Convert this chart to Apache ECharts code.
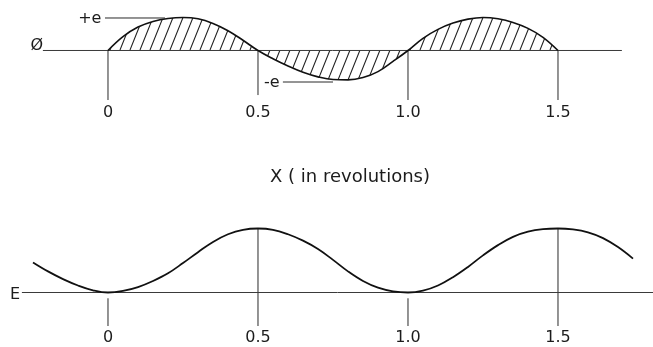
<!DOCTYPE html>
<html>
<head>
<meta charset="utf-8">
<script src="https://cdn.jsdelivr.net/npm/echarts@6/dist/echarts.min.js"></script>
<style>
  html, body { margin: 0; padding: 0; background: #fff; }
  #chart { width: 653px; height: 347px; }
</style>
</head>
<body>
<div id="chart"></div>
<script>
// Shared horizontal scale, in revolutions
const X_MIN = -0.36;
const X_MAX = 1.8167;

// Tick positions and their printed labels
const tickValues = [0, 0.5, 1.0, 1.5];
const tickLabels = ['0', '0.5', '1.0', '1.5'];

// Upper trace: phase swing (+e / -e about the zero line)
const phiX = [0, 0.05, 0.1, 0.15, 0.2, 0.25, 0.3, 0.35, 0.4, 0.45, 0.5,
              0.55, 0.6, 0.65, 0.7, 0.75, 0.8, 0.85, 0.9, 0.95, 1.0,
              1.05, 1.1, 1.15, 1.2, 1.25, 1.3, 1.35, 1.4, 1.45, 1.5];
const phiV = [0, 0.42, 0.71, 0.88, 0.97, 1.0, 0.96, 0.82, 0.60, 0.31, 0,
              -0.25, -0.47, -0.66, -0.80, -0.88, -0.89, -0.82, -0.64, -0.33, 0,
              0.37, 0.64, 0.83, 0.95, 1.0, 0.96, 0.85, 0.67, 0.40, 0];

// Lower trace: E
const eX = [-0.25, -0.2, -0.15, -0.1, -0.05, 0, 0.05, 0.1, 0.15, 0.2, 0.25, 0.3, 0.35,
            0.4, 0.45, 0.5, 0.55, 0.6, 0.65, 0.7, 0.75, 0.8, 0.85, 0.9, 0.95, 1.0,
            1.05, 1.1, 1.15, 1.2, 1.25, 1.3, 1.35, 1.4, 1.45, 1.5, 1.55, 1.6,
            1.65, 1.7, 1.75];
const eV = [0.47, 0.33, 0.21, 0.11, 0.035, 0, 0.025, 0.085, 0.18, 0.30, 0.46, 0.63, 0.79,
            0.91, 0.98, 1.0, 0.98, 0.91, 0.81, 0.68, 0.51, 0.33, 0.18, 0.075, 0.018, 0,
            0.03, 0.11, 0.24, 0.40, 0.58, 0.74, 0.87, 0.95, 0.99, 1.0, 0.985, 0.94,
            0.85, 0.71, 0.53];

// Zero lines [xStart, xEnd]
const phiBase = [-0.217, 1.713];
const eBase = [-0.287, 1.8167];

// Vertical guide lines [x, from, to]
const phiGuides = [[0, 0, -1.5], [0.5, 0, -1.35], [1.0, 0, -1.5], [1.5, 0, -1.5]];
const eGuides = [[0, -0.09, -0.523], [0.5, 1.0, -0.523], [1.0, -0.09, -0.523], [1.5, 1.0, -0.523]];

// Leader lines for the +e / -e callouts [x0, v0, x1, v1]
const leaders = [[-0.01, 0.985, 0.19, 0.985], [0.583, -0.955, 0.75, -0.955]];

// Callout texts [x, v, text, align]
const phiNotes = [[-0.022, 0.96, '+e', 'right'], [0.52, -0.97, '-e', 'left'], [-0.237, 0.14, 'Ø', 'center']];
const eNotes = [[-0.31, -0.04, 'E', 'center']];

const FONT = 'DejaVu Sans';
const INK = '#1c1c1c';

function zip(a, b) { return a.map((v, i) => [v, b[i]]); }

// Diagonal hatching tile
function hatchTile() {
  const c = document.createElement('canvas');
  c.width = 10; c.height = 25;
  const g = c.getContext('2d');
  g.strokeStyle = '#222';
  g.lineWidth = 1.1;
  g.beginPath();
  [-10, 0, 10].forEach(o => { g.moveTo(o, 25); g.lineTo(o + 10, 0); });
  g.stroke();
  return c;
}

function guideSeries(idx, data) {
  return {
    type: 'custom', xAxisIndex: idx, yAxisIndex: idx, silent: true,
    data: data,
    encode: { x: 0, y: [1, 2] },
    renderItem: (params, api) => {
      const a = api.coord([api.value(0), api.value(1)]);
      const b = api.coord([api.value(0), api.value(2)]);
      return { type: 'line', shape: { x1: a[0], y1: a[1], x2: b[0], y2: b[1] },
               style: { stroke: '#2a2a2a', lineWidth: 1 } };
    }
  };
}

function noteSeries(idx, data) {
  return {
    type: 'custom', xAxisIndex: idx, yAxisIndex: idx, silent: true,
    data: data,
    encode: { x: 0, y: 1 },
    renderItem: (params, api) => {
      const item = data[params.dataIndex];
      const p = api.coord([item[0], item[1]]);
      return { type: 'text', x: p[0], y: p[1],
               style: { text: item[2], align: item[3], verticalAlign: 'middle',
                        font: '16px "' + FONT + '"', fill: INK } };
    }
  };
}

function xAxisFor(idx, margin) {
  return {
    type: 'value', gridIndex: idx, min: X_MIN, max: X_MAX,
    axisLine: { show: false }, axisTick: { show: false }, splitLine: { show: false },
    axisLabel: {
      customValues: tickValues,
      formatter: v => tickLabels[tickValues.indexOf(v)],
      margin: margin, fontFamily: FONT, fontSize: 16, color: INK
    }
  };
}

const chart = echarts.init(document.getElementById('chart'), null, { renderer: 'canvas' });
chart.setOption({
  animation: false,
  backgroundColor: '#fff',
  title: {
    text: 'X ( in revolutions)', left: 265, top: 163,
    textStyle: { fontFamily: FONT, fontSize: 18, fontWeight: 'normal', color: INK }
  },
  grid: [
    { left: 0, right: 0, top: 0, height: 100 },
    { left: 0, right: 0, top: 200, height: 126 }
  ],
  xAxis: [xAxisFor(0, 5), xAxisFor(1, 4)],
  yAxis: [
    { type: 'value', gridIndex: 0, min: -1.5, max: 1.53, show: false },
    { type: 'value', gridIndex: 1, min: -0.523, max: 1.445, show: false }
  ],
  series: [
    {
      type: 'line', xAxisIndex: 0, yAxisIndex: 0,
      data: [[phiBase[0], 0], [phiBase[1], 0]],
      symbol: 'none', lineStyle: { color: '#3a3a3a', width: 1 }
    },
    {
      type: 'line', xAxisIndex: 0, yAxisIndex: 0,
      data: zip(phiX, phiV), smooth: 0.4, symbol: 'none',
      lineStyle: { color: '#111', width: 1.6 },
      areaStyle: { origin: 0, opacity: 1, color: { image: hatchTile(), repeat: 'repeat' } }
    },
    guideSeries(0, phiGuides),
    {
      type: 'custom', xAxisIndex: 0, yAxisIndex: 0, silent: true,
      data: leaders,
      encode: { x: [0, 2], y: [1, 3] },
      renderItem: (params, api) => {
        const a = api.coord([api.value(0), api.value(1)]);
        const b = api.coord([api.value(2), api.value(3)]);
        return { type: 'line', shape: { x1: a[0], y1: a[1], x2: b[0], y2: b[1] },
                 style: { stroke: '#2a2a2a', lineWidth: 1 } };
      }
    },
    noteSeries(0, phiNotes),
    {
      type: 'line', xAxisIndex: 1, yAxisIndex: 1,
      data: [[eBase[0], 0], [eBase[1], 0]],
      symbol: 'none', lineStyle: { color: '#3a3a3a', width: 1 }
    },
    {
      type: 'line', xAxisIndex: 1, yAxisIndex: 1,
      data: zip(eX, eV), smooth: 0.4, symbol: 'none',
      lineStyle: { color: '#111', width: 1.8 }
    },
    guideSeries(1, eGuides),
    noteSeries(1, eNotes)
  ]
});
</script>
</body>
</html>
